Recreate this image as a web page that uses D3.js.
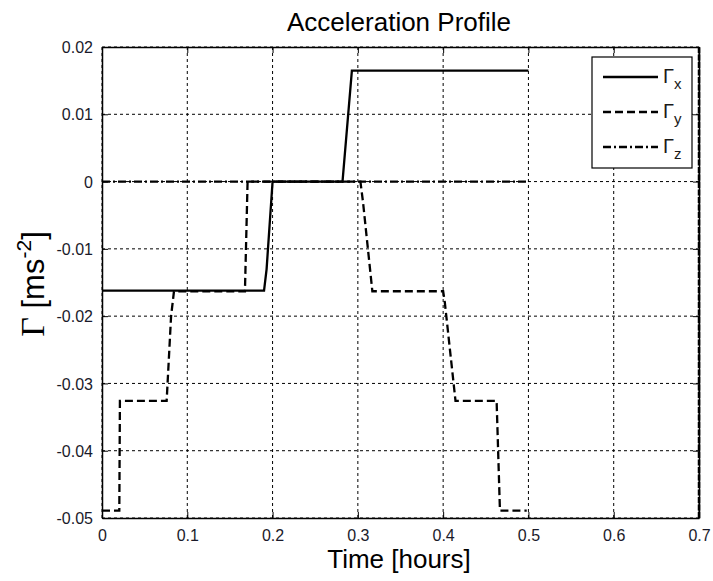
<!DOCTYPE html>
<html><head><meta charset="utf-8">
<script src="https://cdn.jsdelivr.net/npm/d3@7"></script>
<style>body{margin:0;background:#fff}svg{display:block}text{font-family:Arial,"Liberation Sans",sans-serif}</style>
</head><body>
<svg id="c" width="713" height="581"></svg>
<script>
const title = "Acceleration Profile";
const xLabel = "Time [hours]";
const xTicks = [0,0.1,0.2,0.3,0.4,0.5,0.6,0.7];
const yTicks = [0.02,0.01,0,-0.01,-0.02,-0.03,-0.04,-0.05];
const gammaX = [[0,-0.0162],[0.19,-0.0162],[0.193,-0.0130],[0.2,0],[0.282,0],[0.293,0.0165],[0.5,0.0165]];
const gammaY = [[0,-0.0489],[0.0203,-0.0489],[0.021,-0.0326],[0.0758,-0.0326],[0.081,-0.0200],[0.0844,-0.0163],[0.1676,-0.0163],[0.1707,0],[0.303,0],[0.306,-0.0030],[0.317,-0.0163],[0.400,-0.0163],[0.402,-0.0180],[0.4145,-0.0326],[0.4627,-0.0326],[0.4666,-0.0489],[0.498,-0.0489]];
const gammaZ = [[0,0],[0.5,0]];
const series = [
  {sub:"x", data:gammaX, dash:null},
  {sub:"y", data:gammaY, dash:"8,4"},
  {sub:"z", data:gammaZ, dash:"8,3,2,3"}
];

const svg = d3.select("#c");
const L=102, R=699, T=47, B=518;
const x = d3.scaleLinear().domain([0,0.7]).range([L,R]);
const y = d3.scaleLinear().domain([-0.05,0.02]).range([B,T]);
const fmt = d => String(d);

// grid
const g = svg.append("g");
g.selectAll(".vg").data(xTicks).join("line")
  .attr("x1",d=>x(d)).attr("x2",d=>x(d)).attr("y1",T).attr("y2",B)
  .attr("stroke","#000").attr("stroke-width",1).attr("stroke-dasharray","3,3");
g.selectAll(".hg").data(yTicks).join("line")
  .attr("x1",L).attr("x2",R).attr("y1",d=>y(d)).attr("y2",d=>y(d))
  .attr("stroke","#000").attr("stroke-width",1).attr("stroke-dasharray","3,3");

// axes
const xa = svg.append("g").attr("transform",`translate(0,${B})`)
  .call(d3.axisBottom(x).tickValues(xTicks).tickFormat(fmt).tickSizeInner(-6).tickSizeOuter(0).tickPadding(12));
const xt = svg.append("g").attr("transform",`translate(0,${T})`)
  .call(d3.axisTop(x).tickValues(xTicks).tickFormat("").tickSizeInner(-6).tickSizeOuter(0));
const ya = svg.append("g").attr("transform",`translate(${L},0)`)
  .call(d3.axisLeft(y).tickValues(yTicks).tickFormat(fmt).tickSizeInner(-6).tickSizeOuter(0).tickPadding(9));
const yr = svg.append("g").attr("transform",`translate(${R},0)`)
  .call(d3.axisRight(y).tickValues(yTicks).tickFormat("").tickSizeInner(-6).tickSizeOuter(0));
[xa,xt,ya,yr].forEach(a=>{
  a.selectAll("path").attr("stroke","#000").attr("stroke-width",1.5);
  a.selectAll("line").attr("stroke","#000").attr("stroke-width",1);
  a.selectAll("text").attr("font-size",16).attr("fill","#1a1a2a").attr("font-family","Arial,'Liberation Sans',sans-serif");
});
ya.selectAll("text").attr("dy","0.35em");
// heavy dashed right border
svg.append("line").attr("x1",R).attr("x2",R).attr("y1",T).attr("y2",B)
  .attr("stroke","#000").attr("stroke-width",2.5).attr("stroke-dasharray","6,1.5");

// data lines
const line = d3.line().x(d=>x(d[0])).y(d=>y(d[1]));
series.slice().reverse().forEach(s=>{
  svg.append("path").attr("d",line(s.data)).attr("fill","none")
    .attr("stroke","#000").attr("stroke-width",2.3)
    .attr("stroke-dasharray",s.dash);
});

// legend
const lg = svg.append("g");
lg.append("rect").attr("x",592).attr("y",57).attr("width",100).attr("height",111)
  .attr("fill","#fff").attr("stroke","#000").attr("stroke-width",1.2);
series.forEach((s,i)=>{
  const ly = 77 + i*35;
  lg.append("line").attr("x1",603).attr("x2",658).attr("y1",ly).attr("y2",ly)
    .attr("stroke","#000").attr("stroke-width",2.3).attr("stroke-dasharray",s.dash);
  const t = lg.append("text").attr("x",663).attr("y",ly+6)
    .attr("font-size",20).attr("font-family","'Liberation Serif','Times New Roman',serif").attr("fill","#1a1a1a");
  t.append("tspan").text("Γ");
  t.append("tspan").attr("dy",6).attr("font-size",15).attr("font-family","Arial,'Liberation Sans',sans-serif").text(s.sub);
});

// title & labels
svg.append("text").attr("x",399).attr("y",31).attr("text-anchor","middle")
  .attr("font-size",26).attr("fill","#000").text(title);
svg.append("text").attr("x",399).attr("y",568).attr("text-anchor","middle")
  .attr("font-size",26).attr("fill","#000").text(xLabel);
const yl = svg.append("text").attr("transform","translate(44,284) rotate(-90)")
  .attr("text-anchor","middle").attr("font-size",31).attr("fill","#000");
yl.append("tspan").attr("font-family","'Liberation Serif','Times New Roman',serif").attr("font-size",34).text("Γ");
yl.append("tspan").text(" [ms");
yl.append("tspan").attr("dy",-13).attr("font-size",21).text("-2");
yl.append("tspan").attr("dy",13).text("]");
</script>
</body></html>
